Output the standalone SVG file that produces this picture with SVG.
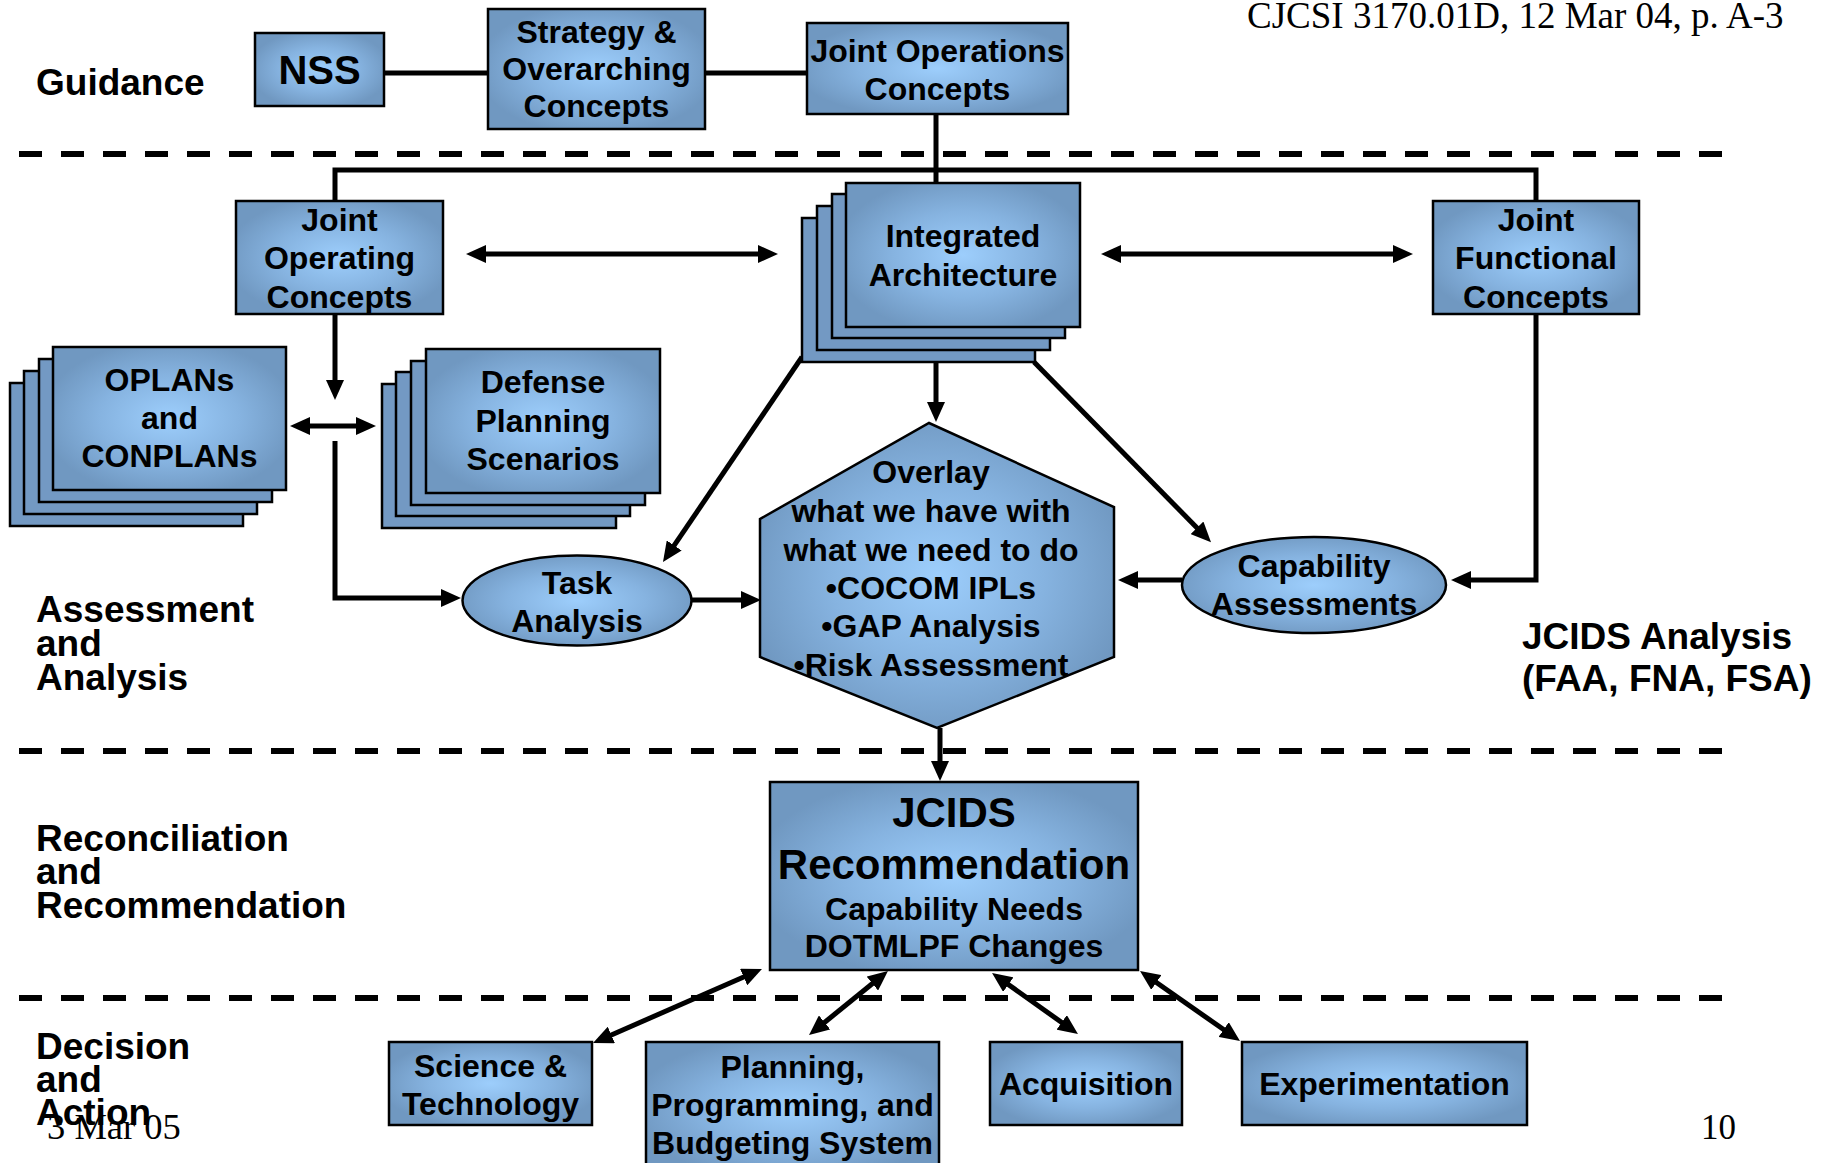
<svg xmlns="http://www.w3.org/2000/svg" width="1834" height="1163" viewBox="0 0 1834 1163">
  <defs>
    <radialGradient id="fillGrad" cx="0.5" cy="0.5" r="0.55">
      <stop offset="0" stop-color="#9DCEFC"/>
      <stop offset="0.55" stop-color="#86B3E0"/>
      <stop offset="1" stop-color="#7098C1"/>
    </radialGradient>
    <marker id="arr" viewBox="0 0 20 18" refX="10" refY="9" markerWidth="20" markerHeight="18" markerUnits="userSpaceOnUse" orient="auto-start-reverse">
      <path d="M0,0 L20,9 L0,18 z" fill="#000"/>
    </marker>
    <style>
      .box { fill: url(#fillGrad); stroke: #000; stroke-width: 2.5; }
      .back { fill: #7399C3; stroke: #000; stroke-width: 2.5; }
      .t { font-family: "Liberation Sans", Arial, sans-serif; font-weight: bold; font-size: 32px; fill: #000; text-anchor: middle; }
      .big { font-size: 42px; }
      .nss { font-size: 40px; }
      .lbl { font-family: "Liberation Sans", Arial, sans-serif; font-weight: bold; font-size: 37px; fill: #000; }
      .serif { font-family: "Liberation Serif", "Times New Roman", serif; fill: #000; }
      .conn { fill: none; stroke: #000; stroke-width: 5; }
      .sep { fill: none; stroke: #000; stroke-width: 6; stroke-dasharray: 23 19; }
    </style>
  </defs>

  <rect width="1834" height="1163" fill="#fff"/>

  <!-- page header -->
  <text class="serif" x="1247" y="28" font-size="37">CJCSI 3170.01D, 12 Mar 04, p. A-3</text>

  <!-- band separators -->
  <g id="separators">
    <line class="sep" x1="19" y1="154" x2="1725" y2="154"/>
    <line class="sep" x1="19" y1="751" x2="1725" y2="751"/>
    <line class="sep" x1="19" y1="998" x2="1725" y2="998"/>
  </g>

  <!-- band labels -->
  <g id="band-labels">
    <text class="lbl" x="36" y="95">Guidance</text>
    <text class="lbl"><tspan x="36" y="622">Assessment</tspan><tspan x="36" y="656">and</tspan><tspan x="36" y="689.5">Analysis</tspan></text>
    <text class="lbl"><tspan x="36" y="851">Reconciliation</tspan><tspan x="36" y="884">and</tspan><tspan x="36" y="917.5">Recommendation</tspan></text>
    <text class="lbl"><tspan x="36" y="1059">Decision</tspan><tspan x="36" y="1092">and</tspan><tspan x="36" y="1125">Action</tspan></text>
    <text class="lbl"><tspan x="1522" y="649">JCIDS Analysis</tspan><tspan x="1522" y="691">(FAA, FNA, FSA)</tspan></text>
  </g>

  <!-- connectors -->
  <g id="connectors">
    <path class="conn" d="M384,73 H488"/>
    <path class="conn" d="M705,73 H807"/>
    <path class="conn" d="M936,114 V183"/>
    <path class="conn" d="M335,201 V170 H1536 V201" stroke-width="6"/>
    <path class="conn" d="M476,254 H768" marker-start="url(#arr)" marker-end="url(#arr)"/>
    <path class="conn" d="M1111,254 H1403" marker-start="url(#arr)" marker-end="url(#arr)"/>
    <path class="conn" d="M335,314 V390" marker-end="url(#arr)"/>
    <path class="conn" d="M300,426 H366" marker-start="url(#arr)" marker-end="url(#arr)"/>
    <path class="conn" d="M335,441 V598 H451" marker-end="url(#arr)"/>
    <path class="conn" d="M802,357 L668.6,553.7" marker-end="url(#arr)"/>
    <path class="conn" d="M936,362 V412" marker-end="url(#arr)"/>
    <path class="conn" d="M1034,362 L1204,535" marker-end="url(#arr)"/>
    <path class="conn" d="M692,600 H751" marker-end="url(#arr)"/>
    <path class="conn" d="M1182,580 H1128" marker-end="url(#arr)"/>
    <path class="conn" d="M1536,314 V580 H1461" marker-end="url(#arr)"/>
    <path class="conn" d="M940,728 V771" marker-end="url(#arr)"/>
    <path class="conn" d="M752.8,973 L602.2,1039" marker-start="url(#arr)" marker-end="url(#arr)"/>
    <path class="conn" d="M880.2,977.3 L816.8,1028.7" marker-start="url(#arr)" marker-end="url(#arr)"/>
    <path class="conn" d="M1000.2,978.8 L1069.8,1028.2" marker-start="url(#arr)" marker-end="url(#arr)"/>
    <path class="conn" d="M1148.2,976.7 L1231.8,1035.3" marker-start="url(#arr)" marker-end="url(#arr)"/>
  </g>

  <!-- guidance row -->
  <g id="nss">
    <rect class="box" x="255" y="33" width="129" height="73"/>
    <text class="t nss" x="319.5" y="84">NSS</text>
  </g>
  <g id="strategy">
    <rect class="box" x="488" y="9" width="217" height="120"/>
    <text class="t"><tspan x="596.5" y="43">Strategy &amp;</tspan><tspan x="596.5" y="80">Overarching</tspan><tspan x="596.5" y="117">Concepts</tspan></text>
  </g>
  <g id="joint-operations-concepts">
    <rect class="box" x="807" y="23" width="261" height="91"/>
    <text class="t"><tspan x="937.5" y="62">Joint Operations</tspan><tspan x="937.5" y="99.5">Concepts</tspan></text>
  </g>

  <!-- assessment row -->
  <g id="joint-operating-concepts">
    <rect class="box" x="236" y="201" width="207" height="113"/>
    <text class="t"><tspan x="339.5" y="230.5">Joint</tspan><tspan x="339.5" y="269">Operating</tspan><tspan x="339.5" y="307.5">Concepts</tspan></text>
  </g>
  <g id="integrated-architecture">
    <rect class="back" x="802" y="218" width="233" height="144"/>
    <rect class="back" x="817" y="206" width="233" height="144"/>
    <rect class="back" x="832" y="194" width="233" height="144"/>
    <rect class="box" x="846" y="183" width="234" height="144"/>
    <text class="t"><tspan x="963" y="247">Integrated</tspan><tspan x="963" y="285.5">Architecture</tspan></text>
  </g>
  <g id="joint-functional-concepts">
    <rect class="box" x="1433" y="201" width="206" height="113"/>
    <text class="t"><tspan x="1536" y="230.5">Joint</tspan><tspan x="1536" y="269">Functional</tspan><tspan x="1536" y="307.5">Concepts</tspan></text>
  </g>
  <g id="oplans-conplans">
    <rect class="back" x="10" y="383" width="233" height="143"/>
    <rect class="back" x="24" y="371" width="233" height="143"/>
    <rect class="back" x="39" y="359" width="233" height="143"/>
    <rect class="box" x="53" y="347" width="233" height="143"/>
    <text class="t"><tspan x="169.5" y="390.5">OPLANs</tspan><tspan x="169.5" y="428.5">and</tspan><tspan x="169.5" y="466.5">CONPLANs</tspan></text>
  </g>
  <g id="defense-planning-scenarios">
    <rect class="back" x="382" y="384" width="234" height="144"/>
    <rect class="back" x="396" y="372" width="234" height="144"/>
    <rect class="back" x="411" y="361" width="234" height="144"/>
    <rect class="box" x="426" y="349" width="234" height="144"/>
    <text class="t"><tspan x="543" y="393">Defense</tspan><tspan x="543" y="431.5">Planning</tspan><tspan x="543" y="470">Scenarios</tspan></text>
  </g>
  <g id="task-analysis">
    <ellipse class="box" cx="577" cy="600.5" rx="114.5" ry="45"/>
    <text class="t"><tspan x="577" y="594">Task</tspan><tspan x="577" y="632">Analysis</tspan></text>
  </g>
  <g id="overlay">
    <polygon class="box" points="929,423 1114,507 1114,657 937,728 760,657 760,519"/>
    <text class="t"><tspan x="931" y="483">Overlay</tspan><tspan x="931" y="522">what we have with</tspan><tspan x="931" y="561">what we need to do</tspan><tspan x="931" y="599">•COCOM IPLs</tspan><tspan x="931" y="637">•GAP Analysis</tspan><tspan x="931" y="676">•Risk Assessment</tspan></text>
  </g>
  <g id="capability-assessments">
    <ellipse class="box" cx="1314" cy="585" rx="132" ry="48"/>
    <text class="t"><tspan x="1314" y="577">Capability</tspan><tspan x="1314" y="615">Assessments</tspan></text>
  </g>

  <!-- recommendation -->
  <g id="jcids-recommendation">
    <rect class="box" x="770" y="782" width="368" height="188"/>
    <text class="t"><tspan class="big" x="954" y="827">JCIDS</tspan><tspan class="big" x="954" y="879">Recommendation</tspan><tspan x="954" y="920">Capability Needs</tspan><tspan x="954" y="957">DOTMLPF Changes</tspan></text>
  </g>

  <!-- decision row -->
  <g id="science-technology">
    <rect class="box" x="389" y="1042" width="203" height="83"/>
    <text class="t"><tspan x="490.5" y="1077">Science &amp;</tspan><tspan x="490.5" y="1114.5">Technology</tspan></text>
  </g>
  <g id="ppbs">
    <rect class="box" x="646" y="1042" width="293" height="132"/>
    <text class="t"><tspan x="792.5" y="1078">Planning,</tspan><tspan x="792.5" y="1116">Programming, and</tspan><tspan x="792.5" y="1153.5">Budgeting System</tspan></text>
  </g>
  <g id="acquisition">
    <rect class="box" x="990" y="1042" width="192" height="83"/>
    <text class="t" x="1086" y="1095">Acquisition</text>
  </g>
  <g id="experimentation">
    <rect class="box" x="1242" y="1042" width="285" height="83"/>
    <text class="t" x="1384.5" y="1095">Experimentation</text>
  </g>

  <!-- page footer -->
  <text class="serif" x="47" y="1139" font-size="36.5">3 Mar 05</text>
  <text class="serif" x="1701" y="1139" font-size="35">10</text>
</svg>
